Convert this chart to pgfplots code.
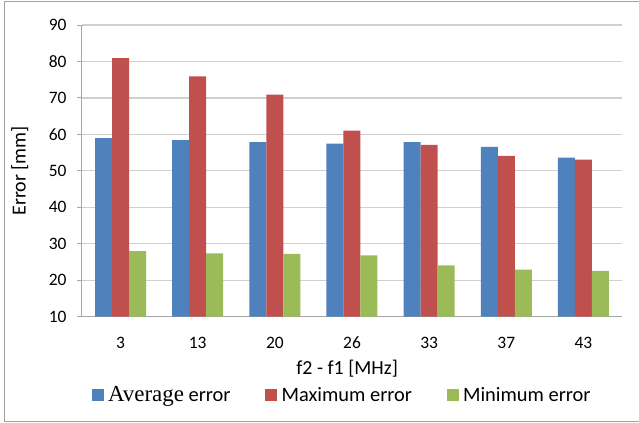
\documentclass[border=0pt]{standalone}
\usepackage{pgfplots}
\pgfplotsset{compat=1.18}
\usepackage{fontspec}
\setmainfont{Carlito}
\newfontfamily\timesf{Liberation Serif}
\definecolor{cblue}{HTML}{4F81BD}
\definecolor{cred}{HTML}{C0504D}
\definecolor{cgreen}{HTML}{9BBB59}
\definecolor{gridc}{HTML}{D0D0D0}
\definecolor{axc}{HTML}{A6A6A6}
\definecolor{framec}{HTML}{A0A0A0}
\begin{document}
\begin{tikzpicture}
\path[use as bounding box] (-82bp,-106.3bp) rectangle (557bp,316.7bp);
\draw[framec, line width=1bp] (-77bp,-104.3bp) rectangle (560bp,314.7bp);
\begin{axis}[
  at={(0,0)}, anchor=south west,
  scale only axis,
  width=540bp, height=291.7bp,
  ybar=0pt, bar width=17bp,
  xmin=-0.5, xmax=6.5,
  ymin=10, ymax=90,
  xtick={0,...,6},
  xticklabels={3,13,20,26,33,37,43},
  ytick={10,20,...,90},
  /pgf/number format/assume math mode=true,
  xticklabel style={font=\fontsize{17.5}{19}\selectfont, anchor=base, yshift=-27bp},
  yticklabel style={font=\fontsize{17.5}{19}\selectfont, xshift=-7bp},
  tick align=outside,
  major tick length=5bp,
  xtick style={draw=none},
  ytick style={axc, line width=1bp},
  ymajorgrids,
  grid style={gridc, line width=1.2bp},
  axis x line*=bottom,
  axis y line*=left,
  axis line style={axc, line width=1bp, -},
  xlabel={f2 - f1 [MHz]},
  ylabel={Error [mm]},
  label style={font=\fontsize{20}{22}\selectfont},
  xlabel style={at={(axis description cs:0.491,-0.179)}, anchor=center},
  ylabel style={at={(axis description cs:-0.115,0.5)}, anchor=center, rotate=0},
  legend columns=3,
  legend style={at={(axis description cs:0.484,-0.269)}, anchor=center, draw=none,
    font=\fontsize{20.5}{22}\selectfont,
    /tikz/every even column/.append style={column sep=30bp},
    nodes={inner xsep=4.5bp}},
  legend image code/.code={\fill[#1] (0bp,-6bp) rectangle (12bp,6bp);},
]
\addplot[fill=cblue, draw=none] coordinates {(0,59) (1,58.4) (2,57.9) (3,57.5) (4,57.9) (5,56.6) (6,53.6)};
\addplot[fill=cred, draw=none] coordinates {(0,80.9) (1,75.9) (2,70.9) (3,61) (4,57.1) (5,54.1) (6,53.1)};
\addplot[fill=cgreen, draw=none] coordinates {(0,28) (1,27.4) (2,27.2) (3,26.8) (4,24.1) (5,22.9) (6,22.6)};
\legend{{\timesf\fontsize{23}{24}\selectfont Average}\ error, Maximum error, Minimum error}
\end{axis}
\end{tikzpicture}
\end{document}
